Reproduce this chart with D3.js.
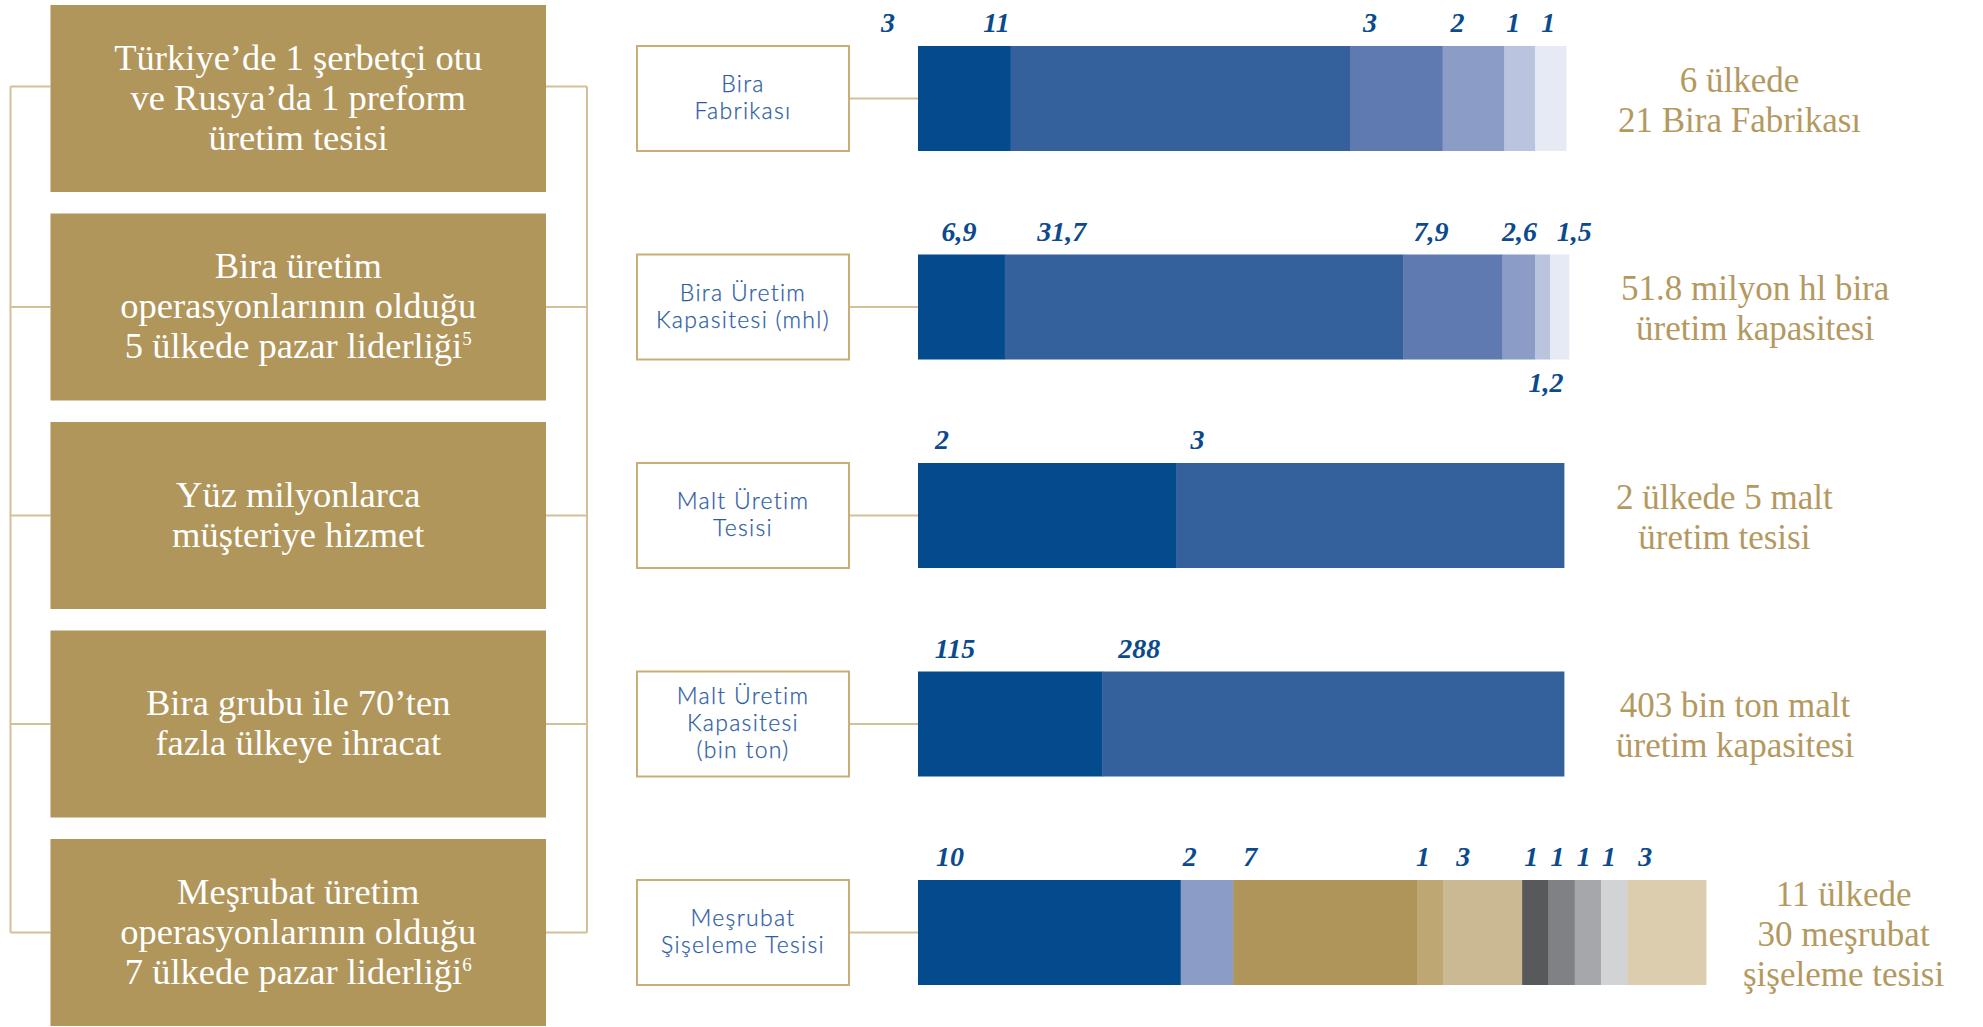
<!DOCTYPE html>
<html lang="tr">
<head>
<meta charset="utf-8">
<title>Üretim ağı</title>
<script src="https://d3js.org/d3.v7.min.js"></script>
<style>
  body { margin: 0; background: #fff; }
  svg { display: block; }
  .hl text { font-family: "Liberation Serif", serif; font-size: 36.5px; fill: #fff; text-anchor: middle; }
  .fac text { font-family: Lato, sans-serif; font-weight: 300; font-size: 23px; fill: #2c5ca4; text-anchor: middle; letter-spacing: 1.3px; stroke: #2c5ca4; stroke-width: 0.25px; }
  .num { font-family: "Liberation Serif", serif; font-style: italic; font-weight: bold; font-size: 28px; fill: #0b4a8c; text-anchor: middle; }
  .sum text { font-family: "Liberation Serif", serif; font-size: 35px; fill: #b4995f; text-anchor: middle; }
</style>
</head>
<body>
<svg id="chart" width="1983" height="1027"></svg>
<script>
// --- données ---
const highlights = [
  ["Türkiye’de 1 şerbetçi otu", "ve Rusya’da 1 preform", "üretim tesisi"],
  ["Bira üretim", "operasyonlarının olduğu", "5 ülkede pazar liderliği"],
  ["Yüz milyonlarca", "müşteriye hizmet"],
  ["Bira grubu ile 70’ten", "fazla ülkeye ihracat"],
  ["Meşrubat üretim", "operasyonlarının olduğu", "7 ülkede pazar liderliği"]
];
const highlightNotes = ["", "5", "", "", "6"];

const facilities = [
  ["Bira", "Fabrikası"],
  ["Bira Üretim", "Kapasitesi (mhl)"],
  ["Malt Üretim", "Tesisi"],
  ["Malt Üretim", "Kapasitesi", "(bin ton)"],
  ["Meşrubat", "Şişeleme Tesisi"]
];

const breweries = [3, 11, 3, 2, 1, 1];
const breweryCapacity = [6.9, 31.7, 7.9, 2.6, 1.2, 1.5];
const maltPlants = [2, 3];
const maltCapacity = [115, 288];
const bottlingPlants = [10, 2, 7, 1, 3, 1, 1, 1, 1, 3];

const summaries = [
  ["6 ülkede", "21 Bira Fabrikası"],
  ["51.8 milyon hl bira", "üretim kapasitesi"],
  ["2 ülkede 5 malt", "üretim tesisi"],
  ["403 bin ton malt", "üretim kapasitesi"],
  ["11 ülkede", "30 meşrubat", "şişeleme tesisi"]
];

const blueShades = ["#034b8c", "#34619c", "#5f7ab0", "#8b9cc6", "#bac4df", "#e6eaf4"];
const bottlingColors = ["#034b8c", "#8b9cc6", "#b0955a", "#bfa774", "#cbb994",
                        "#58595b", "#808184", "#a6a7ab", "#d1d3d5", "#dccdaf"];

const rows = [breweries, breweryCapacity, maltPlants, maltCapacity, bottlingPlants];
const rowColors = [blueShades, blueShades, blueShades, blueShades, bottlingColors];

// --- mise en page ---
const gold = "#b0965b", lineGold = "#d3c096";
const rowScale = d3.scalePoint().domain(d3.range(rows.length)).range([98.5, 932.5]);
const barH = 105, hlH = 187;
const hlX = 50.5, hlW = 495.5;
const facX = 637, facW = 212;
const barX = 918;
const barLen = [648, 651, 646, 646, 788];
const sumGap = [52, 52, 52, 52, 37];
// réglage fin des étiquettes (décalage par rapport au début du segment)
const labelDx = [[-30, -14, 20, 15, 9, 13], [41, 57, 28, 17, 11, 24], [24, 21], [37, 37],
                 [32, 9, 17, 6, 20, 9, 9, 9, 8, 18]];
const below = (r, i) => r === 1 && i === 4;
// le premier crochet est un peu plus haut que le centre du bloc
const tickY = r => rowScale(r) - (r === 0 ? 12 : 0);

const trLocale = d3.formatLocale({ decimal: ",", thousands: ".", grouping: [3], currency: ["", "₺"] });
const fmt = v => Number.isInteger(v) ? trLocale.format("d")(v) : trLocale.format(".1f")(v);

const svg = d3.select("#chart");

// crochets à gauche et à droite
const yFirst = tickY(0), yLast = tickY(rows.length - 1);
const lines = svg.append("g").attr("stroke", lineGold).attr("stroke-width", 2).attr("fill", "none");
lines.append("line").attr("x1", 10.5).attr("x2", 10.5).attr("y1", yFirst).attr("y2", yLast);
lines.append("line").attr("x1", 587).attr("x2", 587).attr("y1", yFirst).attr("y2", yLast);
rows.forEach((_, r) => {
  const y = tickY(r);
  lines.append("line").attr("x1", 10.5).attr("x2", hlX).attr("y1", y).attr("y2", y);
  lines.append("line").attr("x1", hlX + hlW).attr("x2", 587).attr("y1", y).attr("y2", y);
  const yc = rowScale(r);
  lines.append("line").attr("x1", facX + facW).attr("x2", barX).attr("y1", yc).attr("y2", yc);
});

// blocs dorés
const hl = svg.append("g").attr("class", "hl");
highlights.forEach((txt, r) => {
  const cy = rowScale(r);
  hl.append("rect").attr("x", hlX).attr("y", cy - hlH / 2).attr("width", hlW).attr("height", hlH).attr("fill", gold);
  const y0 = cy + 11 - (txt.length - 1) * 20;
  txt.forEach((t, k) => {
    const el = hl.append("text").attr("x", hlX + hlW / 2).attr("y", y0 + k * 40).text(t);
    if (k === txt.length - 1 && highlightNotes[r]) {
      el.append("tspan").attr("font-size", "19px").attr("dy", -13).text(highlightNotes[r]);
    }
  });
});

// cadres des installations
const fac = svg.append("g").attr("class", "fac");
facilities.forEach((txt, r) => {
  const cy = rowScale(r);
  fac.append("rect").attr("x", facX).attr("y", cy - barH / 2).attr("width", facW).attr("height", barH)
    .attr("fill", "#fff").attr("stroke", "#c9ae78").attr("stroke-width", 2);
  const y0 = cy + 7 - (txt.length - 1) * 13.5;
  txt.forEach((t, k) => fac.append("text").attr("x", facX + facW / 2).attr("y", y0 + k * 27).text(t));
});

// barres empilées
const bars = svg.append("g");
const sums = svg.append("g").attr("class", "sum");
rows.forEach((vals, r) => {
  const cy = rowScale(r);
  const total = d3.sum(vals);
  const x = d3.scaleLinear().domain([0, total]).range([barX, barX + barLen[r]]);
  const starts = d3.cumsum([0, ...vals]);
  const segs = vals.map((v, i) => ({ v, i, a: starts[i], b: starts[i] + v }));
  const g = bars.append("g");
  g.selectAll("rect").data(segs).join("rect")
    .attr("x", d => x(d.a)).attr("width", d => x(d.b) - x(d.a) + 0.4)
    .attr("y", cy - barH / 2).attr("height", barH)
    .attr("fill", d => rowColors[r][d.i]);
  g.selectAll("text").data(segs).join("text")
    .attr("class", "num")
    .attr("x", d => x(d.a) + labelDx[r][d.i])
    .attr("y", d => below(r, d.i) ? cy + barH / 2 + 32 : cy - barH / 2 - 14)
    .text(d => fmt(d.v));

  // texte de synthèse
  const sg = sums.append("g");
  const y0 = cy + 13 - (summaries[r].length - 1) * 20;
  const tx = sg.selectAll("text").data(summaries[r]).join("text")
    .attr("y", (d, k) => y0 + k * 40).text(d => d);
  const wMax = d3.max(tx.nodes(), n => n.getComputedTextLength());
  tx.attr("x", x(total) + sumGap[r] + wMax / 2);
});
</script>
</body>
</html>
